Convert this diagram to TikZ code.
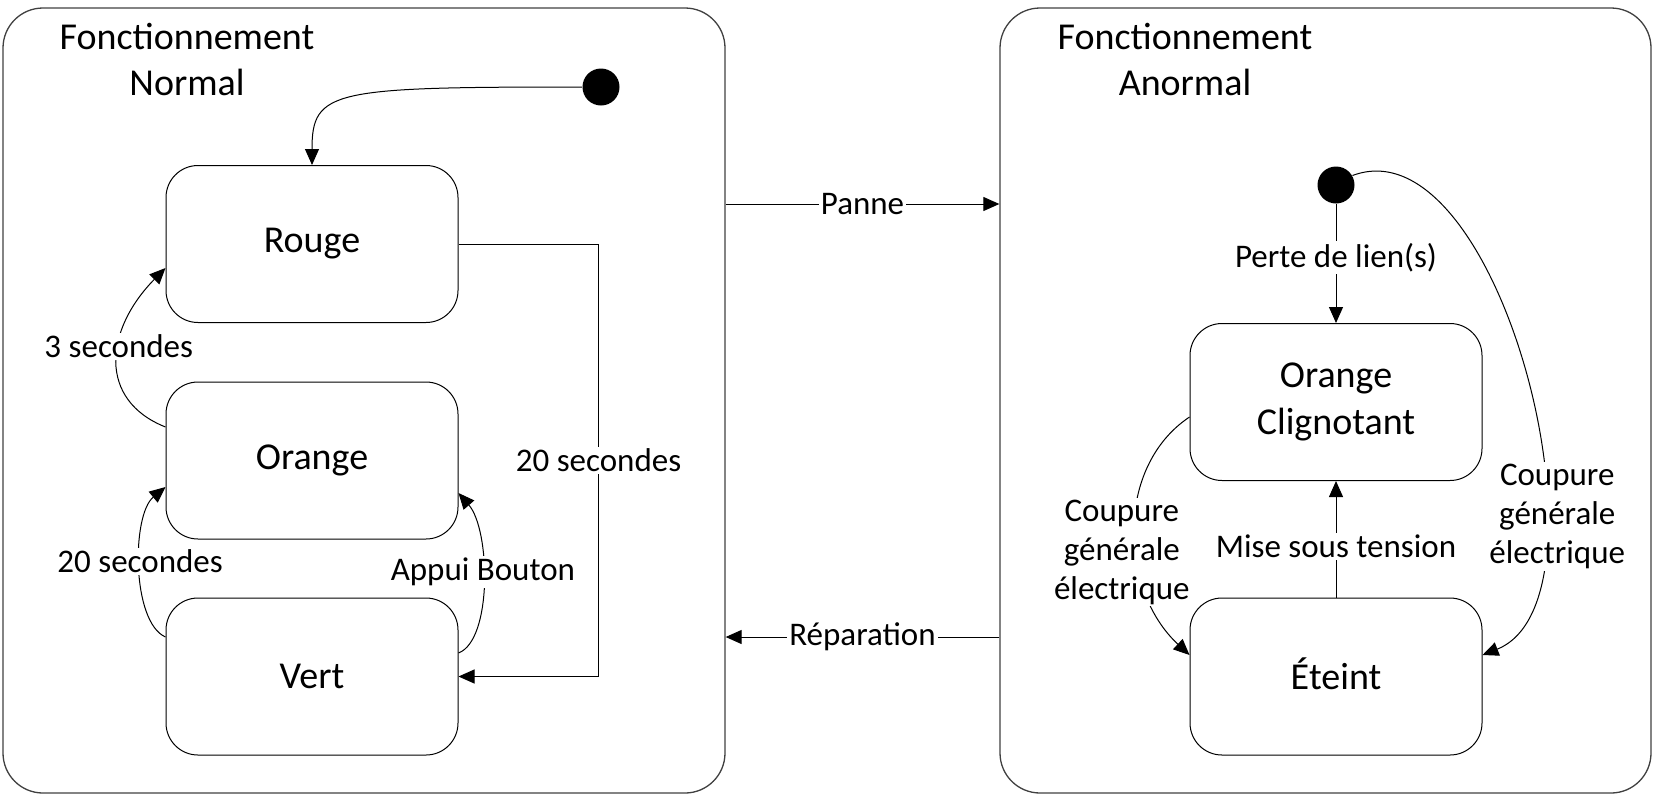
\documentclass[tikz,border=0pt]{standalone}
\usepackage{fontspec}
\setmainfont{Carlito}
\usetikzlibrary{positioning,calc,arrows.meta}

\begin{document}
\begin{tikzpicture}[x=1pt, y=-1pt, line width=1pt,
    container/.style={rectangle, draw=black!75, line width=1.3pt, rounded corners=40pt, minimum width=#1, minimum height=785pt, inner sep=0pt},
    heading/.style={align=center, font=\fontsize{38}{46}\selectfont},
    etat/.style={rectangle, draw, rounded corners=32pt, minimum width=292pt, minimum height=157pt, align=center, font=\fontsize{38}{47}\selectfont},
    startdot/.style={circle, fill=black, inner sep=0pt, minimum size=37pt},
    lbl/.style={fill=white, inner sep=2pt, align=center, font=\fontsize{33}{39}\selectfont},
    arr/.style={-{Triangle[length=16pt, width=14pt]}}]

    \useasboundingbox (0,0) rectangle (1654,796);

    % Super-states
    \node[container=722pt] (normal) at (364,400.5) {};
    \node[container=651pt] (anormal) at (1325.5,400.5) {};
    \node[heading] (titreN) at (187,59) {Fonctionnement\\Normal};
    \node[heading] (titreA) at (1185,59) {Fonctionnement\\Anormal};

    % Normal states
    \node[startdot] (debutN) at (601,87) {};
    \node[etat] (rouge) at (312,244) {Rouge};
    \node[etat] (orange) at (312,460.5) {Orange};
    \node[etat] (vert) at (312,676.5) {Vert};

    % Abnormal states
    \node[startdot] (debutA) at (1336,185) {};
    \node[etat] (clign) at (1336,402) {Orange\\Clignotant};
    \node[etat] (eteint) at (1336,676.5) {\smash{É}teint};

    % Transitions (normal)
    \draw[arr] (debutN.west) .. controls +(-250,0) and +(0,-75) .. (rouge.north);
    \draw[arr] (rouge.east) -- ++(140,0) |- node[lbl, pos=0.25] {20 secondes} (vert.east);
    \draw[arr] ([yshift=33.5pt]orange.west) .. controls +(-68,-27) and +(-61,62) .. node[lbl, pos=0.58] {3 secondes} ([yshift=-24pt]rouge.west);
    \draw[arr] ([yshift=39.5pt]vert.west) .. controls +(-34,-15) and +(-34,28) .. node[lbl, pos=0.53] {20 secondes} ([yshift=-26.5pt]orange.west);
    \draw[arr] ([yshift=23.5pt]vert.east) .. controls +(34,-13) and +(32,37) .. node[lbl, pos=0.55] {Appui Bouton} ([yshift=-32.5pt]orange.east);

    % Transitions (abnormal)
    \draw[arr] (debutA) -- node[lbl, pos=0.45] {Perte de lien(s)} (clign);
    \draw[arr] (eteint) -- node[lbl, pos=0.44] {Mise sous tension} (clign);
    \draw[arr] ([yshift=-15pt]clign.west) .. controls +(-75,50) and +(-70,-65) .. node[lbl, pos=0.58, xshift=-15pt] {Coupure\\générale\\électrique} ([yshift=21.5pt]eteint.west);
    \draw[arr] (debutA.30) .. controls +(148,-55.5) and +(138,-55) .. node[lbl, pos=0.7, xshift=14pt] {Coupure\\générale\\électrique} ([yshift=21.5pt]eteint.east);

    % Between super-states
    \draw[arr] ([yshift=196.5pt]normal.east) -- node[lbl] {Panne} ([yshift=196.5pt]anormal.west);
    \draw[arr] ([yshift=-236.5pt]anormal.west) -- node[lbl] {Réparation} ([yshift=-236.5pt]normal.east);
\end{tikzpicture}
\end{document}
